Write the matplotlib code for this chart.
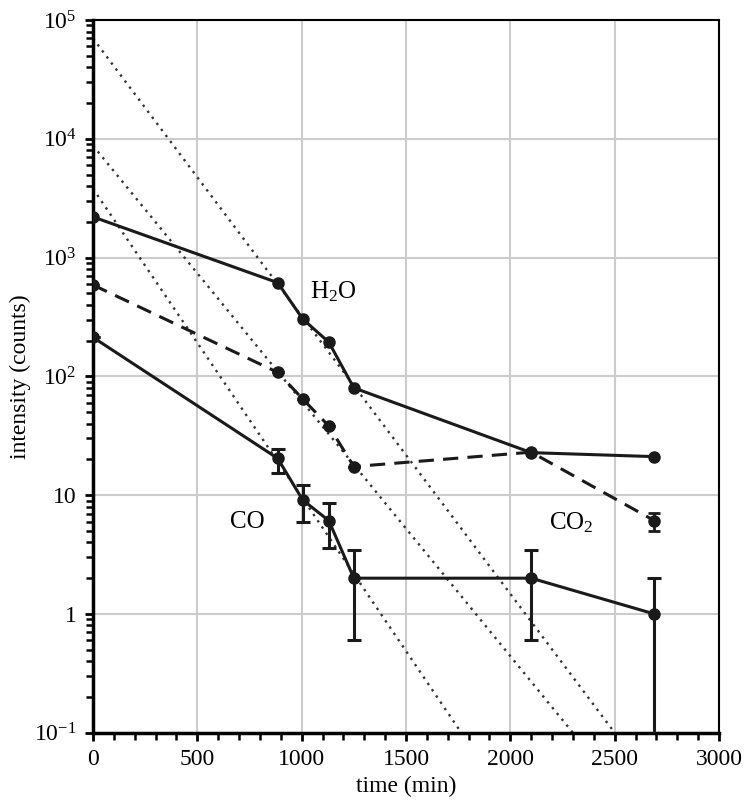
import numpy as np
import matplotlib
matplotlib.use('Agg')
import matplotlib.pyplot as plt
from matplotlib.ticker import FixedLocator, FuncFormatter, MultipleLocator, LogLocator, NullFormatter

plt.rcParams.update({
    'font.family': 'Liberation Serif',
    'mathtext.fontset': 'custom',
    'mathtext.rm': 'Liberation Serif',
    'mathtext.default': 'regular',
    'font.size': 17,
})

# H2O (solid)
t_h2o = [0, 885, 1005, 1130, 1250, 2100, 2690]
i_h2o = [2200, 615, 304, 194, 80, 22.8, 21.1]

# CO2 (dashed)
t_co2 = [0, 885, 1005, 1130, 1250, 2100, 2690]
i_co2 = [588, 108, 64.5, 38.2, 17.4, 23, 6.1]
co2_lo = [0, 0, 0, 0, 0, 0, 1.1]
co2_hi = [0, 0, 0, 0, 0, 0, 1.0]

# CO (solid, with error bars)
t_co = [0, 885, 1005, 1130, 1250, 2100, 2690]
i_co = [213, 20.4, 9.1, 6.1, 2.0, 2.0, 1.0]
co_lo = [0, 4.9, 3.1, 2.5, 1.4, 1.4, 0.999]
co_hi = [0, 4.1, 3.1, 2.55, 1.46, 1.46, 1.0]

# dotted exponential fits: (start time, start value, end time, end value)
fit_t0 = [0, 0, 0]
fit_y0 = [7.0e4, 8.75e3, 3.8e3]
fit_t1 = [2500, 2300, 1765]
fit_y1 = [0.1, 0.1, 0.1]

fig = plt.figure(figsize=(7.46, 8.10), dpi=100)
ax = fig.add_axes([0.1247, 0.0954, 0.8391, 0.8799])

for a, b, c, d in zip(fit_t0, fit_y0, fit_t1, fit_y1):
    ax.plot([a, c], [b, d], linestyle=(0, (1, 2.2)), color='#333333', lw=1.7, zorder=2)

ax.plot(t_h2o, i_h2o, '-o', color='#1a1a1a', lw=2.2, ms=8, zorder=3)
ax.errorbar(t_co2, i_co2, yerr=[co2_lo, co2_hi], fmt='--o', color='#1a1a1a',
            lw=2.2, ms=8, capsize=4.5, capthick=2, elinewidth=2, dashes=(5, 3), zorder=3)
ax.errorbar(t_co, i_co, yerr=[co_lo, co_hi], fmt='-o', color='#1a1a1a',
            lw=2.2, ms=8, capsize=5, capthick=2.2, elinewidth=2.2, zorder=3)

ax.set_yscale('log')
ax.set_xlim(0, 3000)
ax.set_ylim(0.1, 1e5)

ax.xaxis.set_major_locator(MultipleLocator(500))
ax.xaxis.set_minor_locator(MultipleLocator(100))
ax.yaxis.set_major_locator(FixedLocator([0.1, 1, 10, 100, 1e3, 1e4, 1e5]))
ax.yaxis.set_minor_locator(LogLocator(base=10, subs=np.arange(2, 10)))
ax.yaxis.set_minor_formatter(NullFormatter())

def ylab(v, pos):
    e = int(round(np.log10(v)))
    if e == 0:
        return '1'
    if e == 1:
        return '10'
    return r'$10^{%s}$' % ('−1' if e == -1 else str(e))

ax.yaxis.set_major_formatter(FuncFormatter(ylab))

ax.grid(True, which='major', color='#cccccc', lw=1.5, zorder=0)
ax.set_axisbelow(True)

ax.tick_params(which='major', direction='out', length=6, width=2, pad=6)
ax.tick_params(which='minor', direction='out', length=5, width=1.8)

ax.spines['left'].set_linewidth(2.5)
ax.spines['bottom'].set_linewidth(2.5)
ax.spines['top'].set_linewidth(1.5)
ax.spines['right'].set_linewidth(1.5)

ax.text(1150, 520, r'$H_2O$', ha='center', va='center', fontsize=18)
ax.text(740, 5.9, 'CO', ha='center', va='center', fontsize=18)
ax.text(2290, 5.9, r'$CO_2$', ha='center', va='center', fontsize=18)

ax.set_xlabel('time (min)', labelpad=4)
ax.set_ylabel('intensity (counts)', labelpad=2)

fig.savefig('out.png', dpi=100)
